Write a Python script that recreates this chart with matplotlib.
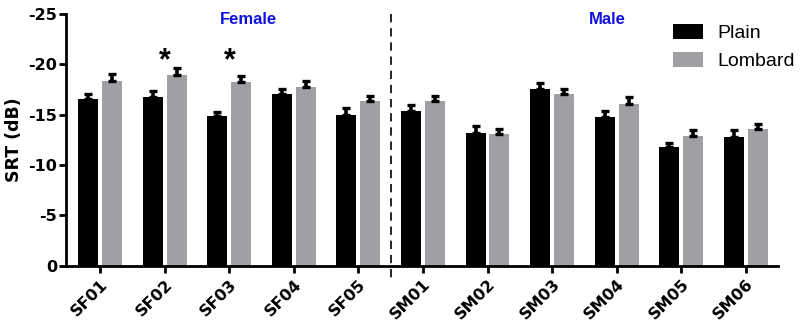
import matplotlib
matplotlib.use("Agg")
import matplotlib.pyplot as plt
import numpy as np

plt.rcParams['font.family'] = ['Liberation Sans', 'DejaVu Sans']

categories = ["SF01", "SF02", "SF03", "SF04", "SF05",
              "SM01", "SM02", "SM03", "SM04", "SM05", "SM06"]
plain = [-16.5, -16.7, -14.85, -17.0, -15.0, -15.4, -13.2, -17.55, -14.8, -11.8, -12.75]
plain_err = [0.55, 0.6, 0.4, 0.5, 0.65, 0.5, 0.62, 0.62, 0.55, 0.37, 0.75]
lombard = [-18.3, -18.95, -18.2, -17.75, -16.3, -16.35, -13.05, -17.0, -16.05, -12.85, -13.6]
lombard_err = [0.68, 0.65, 0.6, 0.55, 0.5, 0.45, 0.55, 0.5, 0.65, 0.6, 0.5]
star_categories = ["SF02", "SF03"]
star_level = -20.3

fig = plt.figure(figsize=(8, 3.23), dpi=100)
ax = fig.add_axes([0.0825, 0.1774, 0.89, 0.78])

x = np.arange(len(categories))
w = 0.31
off = 0.185
zeros = np.zeros(len(categories))
ekw = dict(ecolor='black', elinewidth=2.6, capsize=3.0, capthick=2.4)
ax.bar(x - off, plain, w, color='black', label='Plain', yerr=[plain_err, zeros], error_kw=ekw)
ax.bar(x + off, lombard, w, color='#a0a0a4', label='Lombard', yerr=[lombard_err, zeros], error_kw=ekw)

for c in star_categories:
    i = categories.index(c)
    ax.text(i, star_level, '*', ha='center', va='center', fontsize=22, fontweight='bold')

ax.set_ylim(0, -25)
ax.set_xlim(-0.53, len(categories) - 0.5)
ax.set_yticks([0, -5, -10, -15, -20, -25])
ax.set_yticklabels(['0', '-5', '-10', '-15', '-20', '-25'], fontsize=11.5,
                   fontweight='bold', family='DejaVu Sans')
ax.set_xticks(x)
ax.set_xticklabels(categories, rotation=45, ha='right', rotation_mode='anchor',
                   fontsize=11.5, fontweight='bold', family='DejaVu Sans')
ax.set_ylabel('SRT (dB)', fontsize=12.5, fontweight='bold', family='DejaVu Sans', labelpad=4)

for s in ['top', 'right']:
    ax.spines[s].set_visible(False)
for s in ['left', 'bottom']:
    ax.spines[s].set_linewidth(2)
ax.tick_params(axis='both', direction='out', width=2, length=5, pad=3)
ax.tick_params(axis='y', pad=1.5)

ax.plot([4.5, 4.5], [1.0, -0.057], transform=ax.get_xaxis_transform(),
        color='black', linestyle=(0, (5, 3.5)), linewidth=1.2, clip_on=False)

ax.text(2.3, -24.45, 'Female', color='#1010e0', fontsize=12, fontweight='bold', ha='center', va='center')
ax.text(7.85, -24.45, 'Male', color='#1010e0', fontsize=12, fontweight='bold', ha='center', va='center')

ax.legend(loc='upper left', bbox_to_anchor=(673 / 800, 1 - 24 / 323),
          bbox_transform=fig.transFigure, frameon=False, fontsize=14,
          borderaxespad=0, borderpad=0,
          handlelength=1.55, handleheight=0.82, handletextpad=0.72, labelspacing=0.5)

fig.savefig('out.png', dpi=100)
